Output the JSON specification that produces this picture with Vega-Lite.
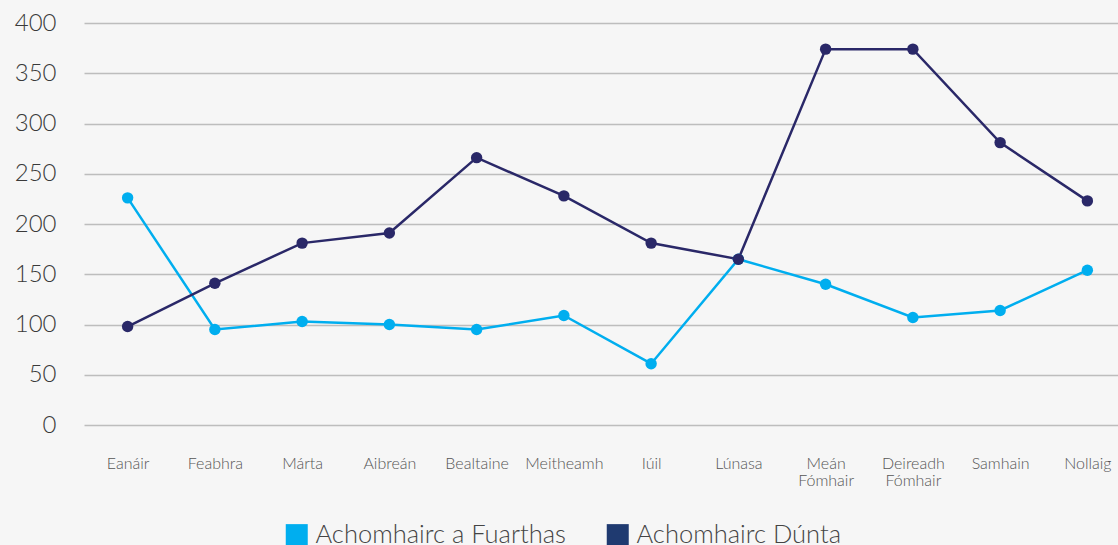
{
  "$schema": "https://vega.github.io/schema/vega-lite/v6.json",
  "width": 1047,
  "height": 402,
  "autosize": {"type": "none"},
  "padding": {"left": 84, "top": 23, "right": 0, "bottom": 120},
  "background": "#f6f6f6",
  "config": {
    "view": {"stroke": null},
    "font": "Lato"
  },
  "data": {
    "values": [
      {"month": "Eanáir", "series": "Achomhairc a Fuarthas", "value": 226},
      {"month": "Feabhra", "series": "Achomhairc a Fuarthas", "value": 95},
      {"month": "Márta", "series": "Achomhairc a Fuarthas", "value": 103},
      {"month": "Aibreán", "series": "Achomhairc a Fuarthas", "value": 100},
      {"month": "Bealtaine", "series": "Achomhairc a Fuarthas", "value": 95},
      {"month": "Meitheamh", "series": "Achomhairc a Fuarthas", "value": 109},
      {"month": "Iúil", "series": "Achomhairc a Fuarthas", "value": 61},
      {"month": "Lúnasa", "series": "Achomhairc a Fuarthas", "value": 165},
      {"month": "Meán Fómhair", "series": "Achomhairc a Fuarthas", "value": 140},
      {"month": "Deireadh Fómhair", "series": "Achomhairc a Fuarthas", "value": 107},
      {"month": "Samhain", "series": "Achomhairc a Fuarthas", "value": 114},
      {"month": "Nollaig", "series": "Achomhairc a Fuarthas", "value": 154},
      {"month": "Eanáir", "series": "Achomhairc Dúnta", "value": 98},
      {"month": "Feabhra", "series": "Achomhairc Dúnta", "value": 141},
      {"month": "Márta", "series": "Achomhairc Dúnta", "value": 181},
      {"month": "Aibreán", "series": "Achomhairc Dúnta", "value": 191},
      {"month": "Bealtaine", "series": "Achomhairc Dúnta", "value": 266},
      {"month": "Meitheamh", "series": "Achomhairc Dúnta", "value": 228},
      {"month": "Iúil", "series": "Achomhairc Dúnta", "value": 181},
      {"month": "Lúnasa", "series": "Achomhairc Dúnta", "value": 165},
      {"month": "Meán Fómhair", "series": "Achomhairc Dúnta", "value": 374},
      {"month": "Deireadh Fómhair", "series": "Achomhairc Dúnta", "value": 374},
      {"month": "Samhain", "series": "Achomhairc Dúnta", "value": 281},
      {"month": "Nollaig", "series": "Achomhairc Dúnta", "value": 223}
    ]
  },
  "encoding": {
    "x": {
      "field": "month",
      "type": "ordinal",
      "sort": null,
      "scale": {"type": "point", "padding": 0.5},
      "axis": {
        "title": null,
        "labelAngle": 0,
        "ticks": false,
        "domain": false,
        "grid": false,
        "labelPadding": 30,
        "labelFontSize": 16,
        "labelColor": "#555555",
        "labelFontWeight": 300,
        "labelLineHeight": 17,
        "labelExpr": "split(datum.label, ' ')"
      }
    },
    "y": {
      "field": "value",
      "type": "quantitative",
      "scale": {"domain": [0, 400]},
      "axis": {
        "title": null,
        "values": [0, 50, 100, 150, 200, 250, 300, 350, 400],
        "ticks": false,
        "domain": false,
        "gridColor": "#bdbdbd",
        "gridWidth": 1.5,
        "labelPadding": 28,
        "labelFontSize": 24,
        "labelColor": "#3a3a3a",
        "labelFontWeight": 300
      }
    }
  },
  "layer": [
    {
      "mark": {"type": "square", "opacity": 0, "size": 10},
      "encoding": {
        "color": {
          "field": "series",
          "type": "nominal",
          "sort": ["Achomhairc a Fuarthas", "Achomhairc Dúnta"],
          "scale": {"domain": ["Achomhairc a Fuarthas", "Achomhairc Dúnta"], "range": ["#00AEEF", "#1F3A70"]},
          "legend": {
            "title": null,
            "orient": "none",
            "direction": "horizontal",
            "legendX": 200,
            "legendY": 499,
            "symbolType": "square",
            "symbolSize": 484,
            "symbolStrokeWidth": 0,
            "symbolOpacity": 1,
            "labelFontSize": 25.5,
            "labelColor": "#444444",
            "labelFontWeight": 300,
            "labelOffset": 6,
            "labelLimit": 500,
            "columnPadding": 39
          }
        }
      }
    },
    {
      "mark": {"type": "line", "strokeWidth": 2.5},
      "encoding": {
        "stroke": {
          "field": "series",
          "type": "nominal",
          "scale": {"domain": ["Achomhairc a Fuarthas", "Achomhairc Dúnta"], "range": ["#00AEEF", "#2A2868"]},
          "legend": null
        }
      }
    },
    {
      "mark": {"type": "point", "filled": true, "size": 130, "opacity": 1},
      "encoding": {
        "fill": {
          "field": "series",
          "type": "nominal",
          "scale": {"domain": ["Achomhairc a Fuarthas", "Achomhairc Dúnta"], "range": ["#00AEEF", "#2A2868"]},
          "legend": null
        }
      }
    }
  ]
}
